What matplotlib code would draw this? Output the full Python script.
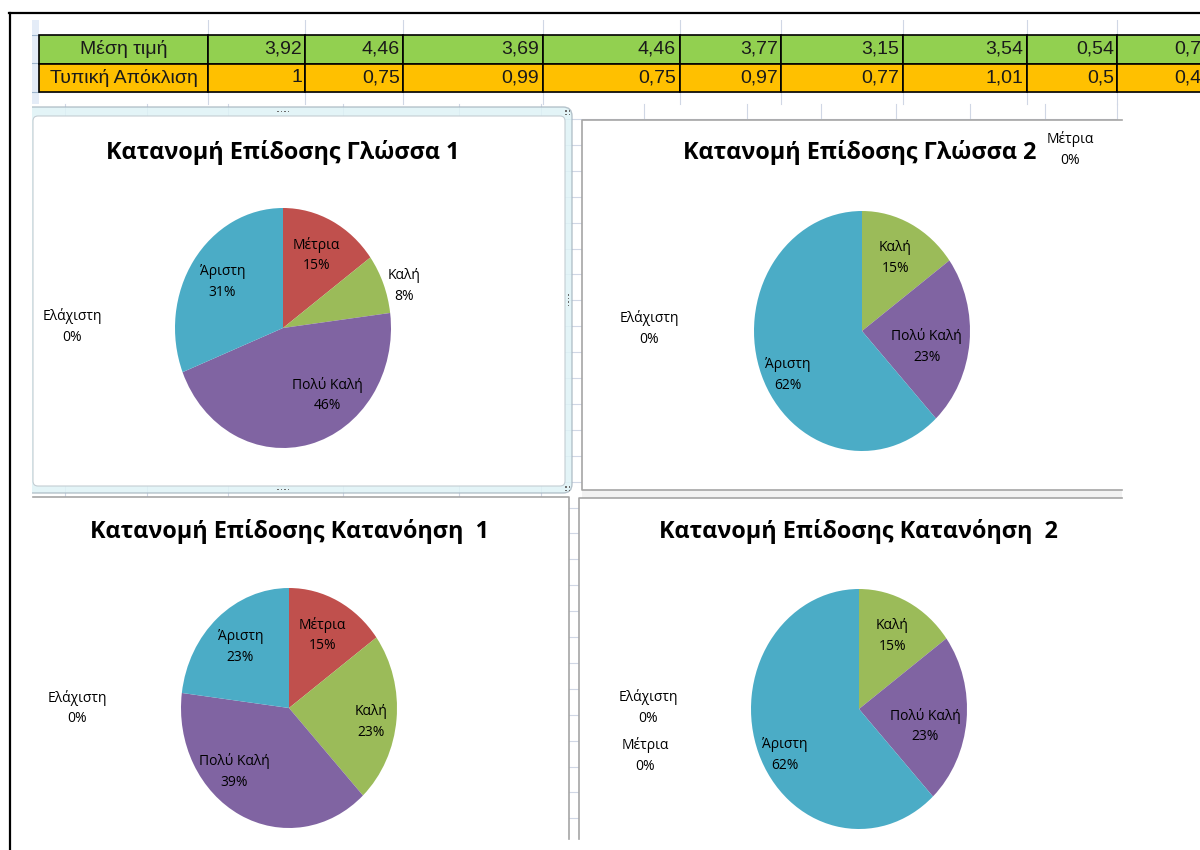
import numpy as np
import matplotlib
matplotlib.use("Agg")
import matplotlib.pyplot as plt
from matplotlib.patches import Rectangle, FancyBboxPatch
from matplotlib.table import Table

# -----------------------------
# DONNEES
# -----------------------------
stat_names = ["Μέση τιμή", "Τυπική Απόκλιση"]
mean_values = [3.92, 4.46, 3.69, 4.46, 3.77, 3.15, 3.54, 0.54, 0.75]
std_values = [1, 0.75, 0.99, 0.75, 0.97, 0.77, 1.01, 0.5, 0.45]

categories = ["Ελάχιστη", "Μέτρια", "Καλή", "Πολύ Καλή", "Άριστη"]
titles = ["Κατανομή Επίδοσης Γλώσσα 1", "Κατανομή Επίδοσης Γλώσσα 2",
          "Κατανομή Επίδοσης Κατανόηση  1", "Κατανομή Επίδοσης Κατανόηση  2"]
glossa_1 = [0, 15, 8, 46, 31]
glossa_2 = [0, 0, 15, 23, 62]
katanoisi_1 = [0, 15, 23, 39, 23]
katanoisi_2 = [0, 0, 15, 23, 62]

# -----------------------------
# STYLE / MISE EN PAGE (pixels)
# -----------------------------
W, H = 1200, 850
PIE_COLORS = ["#4F81BD", "#C0504D", "#9BBB59", "#8064A2", "#4BACC6"]
GRID = "#d0d7e5"
FRAME = "#a5a5a5"
CHART_FONT = ["Open Sans", "DejaVu Sans"]
TABLE_FONT = ["Liberation Sans", "DejaVu Sans"]
RX, RY = 108, 120

fig = plt.figure(figsize=(W / 100, H / 100), dpi=100)
fig.patch.set_facecolor("white")


def px_axes(x0, y0, x1, y1):
    return fig.add_axes([x0 / W, 1 - y1 / H, (x1 - x0) / W, (y1 - y0) / H])


bg = fig.add_axes([0, 0, 1, 1])
bg.set_xlim(0, W)
bg.set_ylim(H, 0)
bg.axis("off")

# quadrillage de la feuille
upper_cols = [208, 305, 403, 543, 680, 781, 903, 1027, 1117]
for x in upper_cols:
    bg.plot([x, x], [20, 104], color=GRID, lw=0.8, zorder=1)
for y in [35, 63, 92]:
    bg.plot([39, W], [y, y], color=GRID, lw=0.8, zorder=1)
lower_cols = [65, 147, 228, 343, 459, 541, 644, 747, 821, 896, 970, 1045, 1117]
for x in lower_cols:
    bg.plot([x, x], [104, 839], color=GRID, lw=0.8, zorder=1)
for y in np.arange(119, 839, 25.9):
    bg.plot([39, 1117], [y, y], color=GRID, lw=0.8, zorder=1)

# en-têtes de lignes
bg.add_patch(Rectangle((32, 20), 7, 84, fc="#e4ecf7", ec="none", zorder=2))
for y in [35, 63, 92]:
    bg.plot([32, 39], [y, y], color="#9eb6ce", lw=0.8, zorder=2)

# -----------------------------
# TABLEAU
# -----------------------------
col_edges = [39, 208, 305, 403, 543, 680, 781, 903, 1027, 1117, 1215]
ax_tab = px_axes(col_edges[0], 35, col_edges[-1], 92)
ax_tab.axis("off")
widths = np.diff(col_edges) / (col_edges[-1] - col_edges[0])
tbl = Table(ax_tab, bbox=[0, 0, 1, 1])
rows = [(stat_names[0], mean_values, "#92D050"),
        (stat_names[1], std_values, "#FFC000")]
for r, (name, vals, colour) in enumerate(rows):
    texts = [name] + [f"{v:g}".replace(".", ",") for v in vals]
    for c, txt in enumerate(texts):
        cell = tbl.add_cell(r, c, widths[c], 0.5, text=txt,
                            loc="center" if c == 0 else "right",
                            facecolor=colour, edgecolor="black")
        cell.PAD = 0.03
        cell.set_linewidth(1.2)
        cell.get_text().set_fontfamily(TABLE_FONT)
        cell.get_text().set_color("#1a1a1a")
tbl.auto_set_font_size(False)
tbl.set_fontsize(14)
ax_tab.add_table(tbl)

# -----------------------------
# CADRES DES GRAPHIQUES
# -----------------------------
# graphique 1 (sélectionné)
bg.add_patch(FancyBboxPatch((20, 107), 552, 386,
                            boxstyle="round,pad=0,rounding_size=9",
                            fc="#dff3f6", ec="#a9b8c2", lw=1, alpha=0.85, zorder=3))
bg.add_patch(FancyBboxPatch((33, 116), 532, 370,
                            boxstyle="round,pad=0,rounding_size=5",
                            fc="white", ec="#c4cdd3", lw=0.8, zorder=4))
for k in range(4):
    bg.add_patch(Rectangle((277 + 3.5 * k, 110.5), 1.8, 1.8, fc="#6d6d6d", ec="none", zorder=5))
    bg.add_patch(Rectangle((277 + 3.5 * k, 488.5), 1.8, 1.8, fc="#6d6d6d", ec="none", zorder=5))
    bg.add_patch(Rectangle((567.5, 294 + 3.5 * k), 1.8, 1.8, fc="#6d6d6d", ec="none", zorder=5))
for dx in (0, 3.5):
    for dy in (0, 3.5):
        bg.add_patch(Rectangle((565 + dx, 110 + dy), 1.8, 1.8, fc="#6d6d6d", ec="none", zorder=5))
        bg.add_patch(Rectangle((565 + dx, 486 + dy), 1.8, 1.8, fc="#6d6d6d", ec="none", zorder=5))

# graphique 2
bg.add_patch(Rectangle((582, 120), 545, 370, fc="white", ec="none", zorder=3))
bg.plot([1122, 582, 582, 1122], [120, 120, 490, 490], color=FRAME, lw=1.2, zorder=4)
bg.add_patch(Rectangle((582, 490), 540, 8, fc="#f2f2f2", ec="none", zorder=3))

# graphique 3
bg.add_patch(Rectangle((33, 497), 536, 353, fc="white", ec="none", zorder=3))
bg.plot([33, 569, 569], [497, 497, 839], color=FRAME, lw=1.2, zorder=4)

# graphique 4
bg.add_patch(Rectangle((579, 498), 548, 352, fc="white", ec="none", zorder=3))
bg.plot([1122, 579, 579], [498, 498, 839], color=FRAME, lw=1.2, zorder=4)

# bord gauche blanc + cadre noir
bg.add_patch(Rectangle((0, 0), 32, H, fc="white", ec="none", zorder=10))
bg.add_patch(Rectangle((0, 0), W, 20, fc="white", ec="none", zorder=10))
bg.add_patch(Rectangle((0, 839), W, 11, fc="white", ec="none", zorder=2))
bg.plot([9.5, 9.5], [13, H], color="black", lw=1.6, zorder=11)
bg.plot([9, W], [13, 13], color="black", lw=1.6, zorder=11)

# -----------------------------
# CAMEMBERTS
# -----------------------------
charts = [
    (titles[0], glossa_1, (283, 328), (283, 152)),
    (titles[1], glossa_2, (862, 331), (860, 152)),
    (titles[2], katanoisi_1, (289, 708), (289, 532)),
    (titles[3], katanoisi_2, (859, 709), (858, 532)),
]

# positions des étiquettes qu'Excel a placées hors de la bissectrice
label_pos = {
    (0, "Ελάχιστη"): (-1.95, 0.01), (0, "Καλή"): (1.12, 0.35), (0, "Πολύ Καλή"): (0.41, -0.56),
    (1, "Ελάχιστη"): (-1.97, 0.02), (1, "Μέτρια"): (1.93, 1.51),
    (1, "Πολύ Καλή"): (0.60, -0.13), (1, "Άριστη"): (-0.69, -0.37),
    (2, "Ελάχιστη"): (-1.96, 0.0), (2, "Καλή"): (0.76, -0.12), (2, "Πολύ Καλή"): (-0.51, -0.53),
    (3, "Ελάχιστη"): (-1.95, 0.01), (3, "Μέτρια"): (-1.98, -0.39),
    (3, "Πολύ Καλή"): (0.61, -0.145), (3, "Άριστη"): (-0.69, -0.38),
}

for i, (title, values, (cx, cy), (tx, ty)) in enumerate(charts):
    bg.text(tx, ty, title, ha="center", va="center", fontsize=16.8,
            fontweight="bold", family=CHART_FONT, color="black", zorder=6)

    ax = px_axes(cx - 1.25 * RX, cy - 1.25 * RY, cx + 1.25 * RX, cy + 1.25 * RY)
    wedges, _ = ax.pie(values, colors=PIE_COLORS, startangle=90, counterclock=False,
                       radius=1, wedgeprops=dict(linewidth=0))
    ax.set_aspect("auto")
    ax.set_xlim(-1.25, 1.25)
    ax.set_ylim(-1.25, 1.25)
    ax.axis("off")

    for cat, v, w in zip(categories, values, wedges):
        if (i, cat) in label_pos:
            x, y = label_pos[(i, cat)]
        else:
            mid = np.deg2rad((w.theta1 + w.theta2) / 2)
            x, y = 0.68 * np.cos(mid), 0.68 * np.sin(mid)
        for txt, off in ((cat, 7.5), (f"{v}%", -7.5)):
            ax.annotate(txt, (x, y), xytext=(0, off), textcoords="offset points",
                        ha="center", va="center", fontsize=10, family=CHART_FONT,
                        color="black", annotation_clip=False)

fig.savefig("out.png", dpi=100)
